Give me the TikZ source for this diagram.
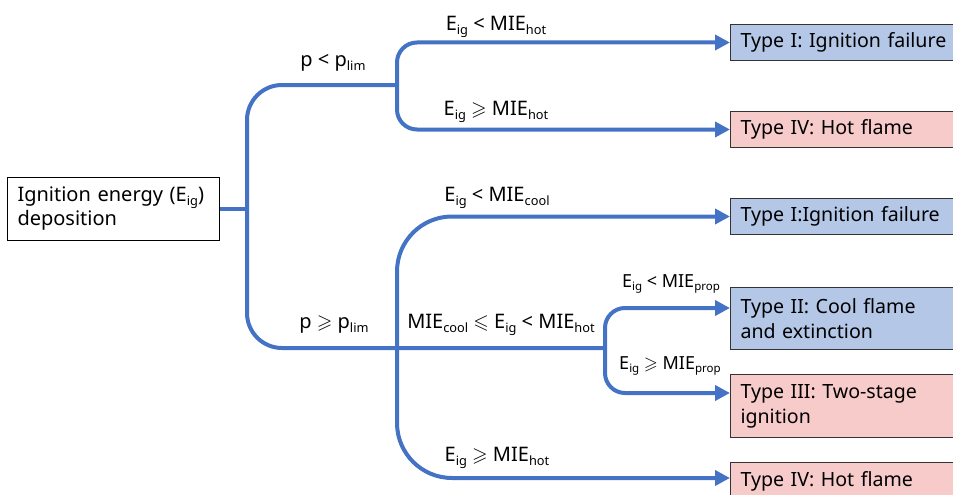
\documentclass[tikz,border=0pt]{standalone}
\usepackage{fontspec}
\setmainfont{Noto Sans}
\usepackage{amssymb}
\usepackage{graphicx}
\usetikzlibrary{arrows.meta}
\definecolor{lineblue}{HTML}{4472C4}
\definecolor{boxblue}{HTML}{B4C7E7}
\definecolor{boxpink}{HTML}{F8CBCB}
\newcommand\lsub[1]{\raisebox{-0.35ex}{\scalebox{0.64}{#1}}}
\newcommand\GEQ{\ensuremath{\geqslant}}
\newcommand\LEQ{\ensuremath{\leqslant}}
\begin{document}
\begin{tikzpicture}[x=1pt,y=-1pt,
  conn/.style={draw=lineblue, line width=4pt},
  arr/.style={conn, -{Triangle[length=15pt,width=15pt]}},
  result/.style={draw=black!80, line width=1pt, anchor=north west, align=left,
     text width=215pt, inner xsep=10pt, inner ysep=0pt,
     font=\fontsize{19.6}{25}\selectfont},
  coolbox/.style={result, fill=boxblue},
  hotbox/.style={result, fill=boxpink},
  lab/.style={inner sep=0pt, font=\fontsize{20}{24}\selectfont},
  smalllab/.style={inner sep=0pt, font=\fontsize{18}{22}\selectfont}]
\useasboundingbox (0,0) rectangle (953,495);
\clip (0,0) rectangle (953,495);

% start box
\node[draw=black, line width=1pt, anchor=north west, align=left, text width=192pt,
  inner xsep=10pt, inner ysep=0pt, minimum height=63pt,
  font=\fontsize{20}{24}\selectfont] (root) at (7,177)
  {\raisebox{-3pt}{Ignition energy (E\lsub{ig})}\\\raisebox{-3pt}{deposition}};

% result boxes
\node[coolbox, minimum height=36pt] (tI1)  at (730,24)  {Type I: Ignition failure};
\node[hotbox,  minimum height=36pt] (tIV1) at (730,111) {Type IV: Hot flame};
\node[coolbox, minimum height=36pt] (tI2)  at (730,198) {Type I:Ignition failure};
\node[coolbox, minimum height=62pt] (tII)  at (730,287) {Type II: Cool flame\\and extinction};
\node[hotbox,  minimum height=63pt] (tIII) at (730,374) {Type III: Two-stage\\ignition};
\node[hotbox,  minimum height=38pt] (tIV2) at (730,462) {Type IV: Hot flame};

% junctions
\coordinate (j0) at (247,208);
\coordinate (b1) at (397,85);
\coordinate (b2) at (397,348);
\coordinate (b3) at (605,348);
\path (tII.north west) ++(0,21) coordinate (aII);
\path (tIII.north west) ++(0,19) coordinate (aIII);
\path (tIV2.north west) ++(0,16) coordinate (aIV2);

% connectors
\draw[conn] (root.east) -- (root.east -| j0);
\draw[conn, rounded corners=35pt] (b1) -- (b1 -| j0) -- (b2 -| j0) -- (b3);
\draw[arr, rounded corners=20pt] (b1) |- (tI1.west);
\draw[arr, rounded corners=20pt] (b1) |- (tIV1.west);
\draw[arr, rounded corners=55pt] (b2) |- (tI2.west);
\draw[arr, rounded corners=55pt] (b2) |- (aIV2);
\draw[arr, rounded corners=20pt] (b3) |- (aII);
\draw[arr, rounded corners=20pt] (b3) |- (aIII);

% labels
\node[lab] (lp1) at (333,63) {p < p\lsub{lim}};
\node[lab] (lp2) at (334,325) {p \GEQ\ p\lsub{lim}};
\node[lab] (l1) at (496,27) {E\lsub{ig} < MIE\lsub{hot}};
\node[lab] (l2) at (496,112) {E\lsub{ig} \GEQ\ MIE\lsub{hot}};
\node[lab] (l3) at (497,198) {E\lsub{ig} < MIE\lsub{cool}};
\node[lab] (l4) at (501,325) {MIE\lsub{cool} \LEQ\ E\lsub{ig} < MIE\lsub{hot}};
\node[lab] (l5) at (497,458) {E\lsub{ig} \GEQ\ MIE\lsub{hot}};
\node[smalllab] (l6) at (671,284) {E\lsub{ig} < MIE\lsub{prop}};
\node[smalllab] (l7) at (670,366) {E\lsub{ig} \GEQ\ MIE\lsub{prop}};
\end{tikzpicture}
\end{document}
